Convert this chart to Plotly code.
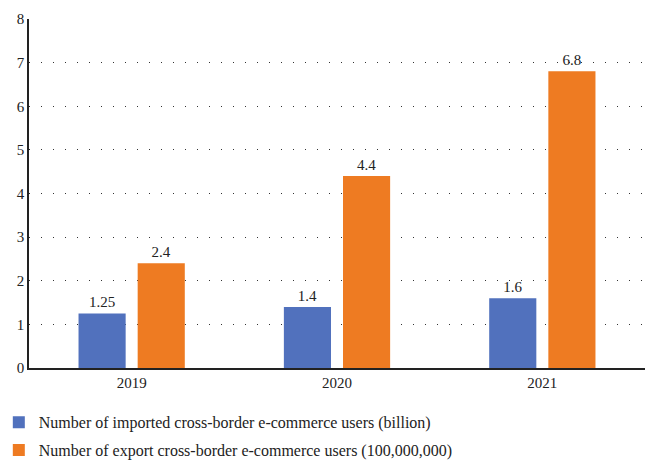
import plotly.graph_objects as go

years = ["2019", "2020", "2021"]
imported = [1.25, 1.4, 1.6]
export = [2.4, 4.4, 6.8]
names = ["Number of imported cross-border e-commerce users (billion)",
         "Number of export cross-border e-commerce users (100,000,000)"]
colors = ["#5171BD", "#EE7B22"]
FONT = "Liberation Serif, DejaVu Serif, serif"

fig = go.Figure()
for i, (vals, nm, col) in enumerate(zip([imported, export], names, colors)):
    fig.add_trace(go.Bar(
        x=years, y=vals, name=nm, marker=dict(color=col, line=dict(width=0)),
        text=[f"{v:g}" for v in vals], textposition="outside",
        textfont=dict(family=FONT, size=15, color="#222"),
        cliponaxis=False, legendgroup=f"g{i}",
    ))

fig.update_layout(
    width=645, height=461,
    margin=dict(l=29, r=0, t=19, b=93, autoexpand=False),
    paper_bgcolor="white", plot_bgcolor="white",
    barmode="group", bargap=0.424, bargroupgap=0.203,
    font=dict(family=FONT, size=15, color="#222"),
    showlegend=True,
    legend=dict(orientation="v", x=-0.049, xanchor="left", y=-0.107, yanchor="top",
                font=dict(family=FONT, size=16, color="#222"), tracegroupgap=4,
                bgcolor="rgba(0,0,0,0)"),
    xaxis=dict(showline=True, linecolor="#222", linewidth=1.5, ticks="",
               showgrid=False, tickfont=dict(family=FONT, size=15)),
    yaxis=dict(range=[0, 8], dtick=1, showline=True, linecolor="#222", linewidth=1.5,
               showgrid=True, gridcolor="#333", gridwidth=1, griddash="1px,11px",
               zeroline=False, ticks="", tickfont=dict(family=FONT, size=15)),
)
fig.write_html("out.html")
